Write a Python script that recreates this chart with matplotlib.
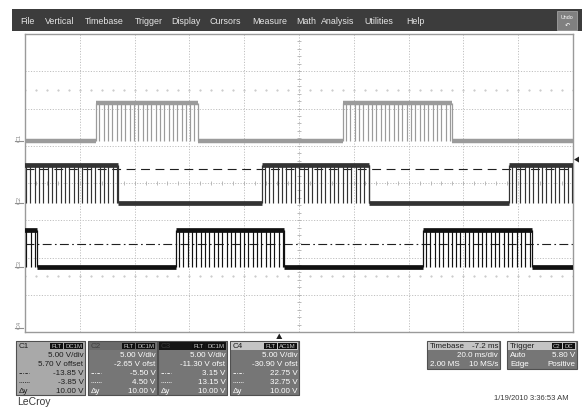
import numpy as np
import matplotlib
matplotlib.use("Agg")
import matplotlib.pyplot as plt
from matplotlib.patches import Rectangle, Polygon

plt.rcParams['font.family'] = ['Liberation Sans', 'DejaVu Sans']

W, H = 582, 410

# ---- acquisition settings -------------------------------------------------
time_per_div_ms = 20.0
trigger_delay_ms = -7.2
n_xdiv, n_ydiv = 10, 8
volts_per_div = 5.0

# channel offsets (V) -> position of the 0 V level on screen
channel_offsets = {"C1": 5.70, "C2": -2.65, "C3": -11.30, "C4": -30.90}

# logic levels of the three gate signals (V)
level_high = 5.0
level_low = 0.0

# intervals (ms, relative to trigger) during which each signal is high
c1_high = [(-66.9, -29.7), (23.2, 63.0)]
c2_high = [(-95.0, -58.9), (-6.3, 32.7), (83.8, 110.0)]
c3_high = [(-95.0, -88.4), (-37.7, 1.7), (52.4, 92.2)]

# switching period of the chopping pulses inside a high interval (ms)
chop_period_ms = 1.58

# horizontal cursors on C2 (V)
cursor_dash = 4.50
cursor_dashdot = -5.50
trigger_level = 5.80

# readout tables
box_titles = ["C1", "C2", "C3", "C4"]
box_coupling = ["DC1M", "DC1M", "DC1M", "AC1M"]
box_vdiv = ["5.00 V/div"] * 4
box_offset = ["5.70 V offset", "-2.65 V ofst", "-11.30 V ofst", "-30.90 V ofst"]
box_cur1 = ["-13.85 V", "-5.50 V", "3.15 V", "22.75 V"]
box_cur2 = ["-3.85 V", "4.50 V", "13.15 V", "32.75 V"]
box_dy = ["10.00 V"] * 4

menu_items = ["File", "Vertical", "Timebase", "Trigger", "Display", "Cursors",
              "Measure", "Math", "Analysis", "Utilities", "Help"]
menu_x = [20, 45, 85, 135, 171, 210, 252, 296, 321, 364, 406]

fig = plt.figure(figsize=(W / 100, H / 100), dpi=100)
fig.patch.set_facecolor("white")

# ---- full-figure overlay in pixel coordinates -----------------------------
ov = fig.add_axes([0, 0, 1, 1])
ov.set_xlim(0, W)
ov.set_ylim(H, 0)
ov.axis("off")

# menu bar
ov.add_patch(Rectangle((12, 10), W - 12, 22, facecolor="#3c3c3c", edgecolor="none"))
for name, x in zip(menu_items, menu_x):
    ov.text(x, 21.5, name, color="#e6e6e6", fontsize=6.4, va="center", ha="left")
ov.add_patch(Rectangle((557, 12), 20, 19, facecolor="#808080", edgecolor="#a0a0a0", lw=0.6))
ov.text(567, 17.5, "Undo", color="white", fontsize=3.8, ha="center", va="center")
ov.text(567, 25, "\u21b6", color="white", fontsize=4.5, ha="center", va="center")

# ---- scope grid ------------------------------------------------------------
gx0, gx1, gy0, gy1 = 25, 573, 35, 333
ax = fig.add_axes([gx0 / W, 1 - gy1 / H, (gx1 - gx0) / W, (gy1 - gy0) / H])
t_left = -n_xdiv / 2 * time_per_div_ms - trigger_delay_ms
t_right = t_left + n_xdiv * time_per_div_ms
ax.set_xlim(t_left, t_right)
ax.set_ylim(0, n_ydiv)
ax.set_xticks([])
ax.set_yticks([])
for s in ax.spines.values():
    s.set_color("#9a9a9a")
    s.set_linewidth(1.0)

grid_kw = dict(color="#c0c0c0", lw=0.7, linestyle=(0, (1.2, 1.6)), zorder=0)
for i in range(1, n_xdiv):
    ax.axvline(t_left + i * time_per_div_ms, **grid_kw)
for j in range(1, n_ydiv):
    ax.axhline(j, **grid_kw)

t_mid = t_left + n_xdiv / 2 * time_per_div_ms
sub_t = np.arange(t_left, t_right + 1e-9, time_per_div_ms / 5)
sub_y = np.arange(0, n_ydiv + 1e-9, 0.2)
ax.plot(sub_t, np.full_like(sub_t, 4.0), "|", color="#b0b0b0", ms=3, mew=0.6, zorder=0)
ax.plot(np.full_like(sub_y, t_mid), sub_y, "_", color="#b0b0b0", ms=3, mew=0.6, zorder=0)
for yrow in (1.5, 6.5):
    ax.plot(sub_t, np.full_like(sub_t, yrow), ".", color="#c0c0c0", ms=1.0, zorder=0)


def zero_div(ch):
    return n_ydiv / 2 + channel_offsets[ch] / volts_per_div


def draw_channel(ch, highs, color, lw_band, phase):
    z = zero_div(ch)
    yh = z + level_high / volts_per_div
    yl = z + level_low / volts_per_div
    # low segments between high intervals
    edges = [t_left - 5] + [v for iv in highs for v in iv] + [t_right + 5]
    for a, b in zip(edges[0::2], edges[1::2]):
        if b > a:
            ax.plot([a, b], [yl, yl], color=color, lw=lw_band, solid_capstyle="butt", zorder=3)
    for a, b in highs:
        ax.plot([a, b], [yh, yh], color=color, lw=lw_band, solid_capstyle="butt", zorder=3)
        ax.vlines([a, b], yl, yh, color=color, lw=0.9, zorder=3)
        dips = np.arange(a + phase, b, chop_period_ms)
        ax.vlines(dips, yl, yh, color=color, lw=0.85, zorder=3)


draw_channel("C1", c1_high, "#9b9b9b", 3.2, 1.2)
draw_channel("C2", c2_high, "#333333", 3.4, 1.0)
draw_channel("C3", c3_high, "#111111", 3.4, 1.1)

# cursors on C2
z2 = zero_div("C2")
ax.axhline(z2 + cursor_dash / volts_per_div, color="#202020", lw=0.8,
           linestyle=(0, (8, 5)), zorder=2)
ax.axhline(z2 + cursor_dashdot / volts_per_div, color="#202020", lw=0.8,
           linestyle=(0, (8, 3, 1.5, 3)), zorder=2)

# ---- markers outside the grid ----------------------------------------------
def div_to_py(d):
    return gy1 - d * (gy1 - gy0) / n_ydiv


for ch in ["C1", "C2", "C3", "C4"]:
    py = min(div_to_py(zero_div(ch)), 329)
    ov.text(19, py - 4, ch, color="#909090", fontsize=4.6, rotation=90,
            ha="center", va="center")
    ov.plot([15, 23], [py, py], color="#909090", lw=0.8)

trig_y = div_to_py(z2 + trigger_level / volts_per_div)
ov.add_patch(Polygon([[579, trig_y - 3], [579, trig_y + 3], [574, trig_y]],
                     closed=True, facecolor="#202020", edgecolor="none"))
trig_x = gx0 + (0 - t_left) / (t_right - t_left) * (gx1 - gx0)
ov.add_patch(Polygon([[trig_x - 3, 340], [trig_x + 3, 340], [trig_x, 334.5]],
                     closed=True, facecolor="#202020", edgecolor="none"))

# ---- channel readout boxes ---------------------------------------------------
box_x = [16, 88, 158, 230]
box_w = 69
row_y = [346.5, 356, 365, 374, 383, 392]
header_fc = ["#a9a9a9", "#6a6a6a", "#151515", "#c4c4c4"]
body_fc = ["#a9a9a9", "#767676", "#767676", "#767676"]
body_tc = ["#1e1e1e", "white", "white", "white"]
head_tc = ["#1e1e1e", "#3e3e3e", "#3a3a3a", "#1e1e1e"]
fs = 5.8
for i, x in enumerate(box_x):
    ov.add_patch(Rectangle((x, 342), box_w, 54, facecolor=body_fc[i],
                           edgecolor="#505050", lw=0.8, joinstyle="round"))
    ov.add_patch(Rectangle((x + 0.8, 342.8), box_w - 1.6, 8.4, facecolor=header_fc[i],
                           edgecolor="none"))
    ov.text(x + 3, row_y[0], box_titles[i], color=head_tc[i], fontsize=fs, va="center")
    # FLT / coupling badges
    ov.add_patch(Rectangle((x + 34, 343.5), 13, 6.5, facecolor="#101010", edgecolor="none"))
    ov.text(x + 40.5, row_y[0], "FLT", color="#c8c8c8", fontsize=4.3, ha="center", va="center")
    ov.add_patch(Rectangle((x + 48, 343.5), 19, 6.5, facecolor="#101010", edgecolor="none"))
    ov.text(x + 57.5, row_y[0], box_coupling[i], color="#c8c8c8", fontsize=4.3,
            ha="center", va="center")
    xr = x + box_w - 1.5
    tc = body_tc[i]
    ov.text(xr, row_y[1], box_vdiv[i], color=tc, fontsize=fs, ha="right", va="center")
    ov.text(xr, row_y[2], box_offset[i], color=tc, fontsize=fs, ha="right", va="center")
    ov.text(xr, row_y[3], box_cur1[i], color=tc, fontsize=fs, ha="right", va="center")
    ov.text(xr, row_y[4], box_cur2[i], color=tc, fontsize=fs, ha="right", va="center")
    ov.text(xr, row_y[5], box_dy[i], color=tc, fontsize=fs, ha="right", va="center")
    ov.plot([x + 3, x + 13], [row_y[3], row_y[3]], color=tc, lw=0.6,
            linestyle=(0, (3, 1.5, 1, 1.5)))
    ov.plot([x + 3, x + 13], [row_y[4], row_y[4]], color=tc, lw=0.6,
            linestyle=(0, (1, 1.2)))
    ov.text(x + 3, row_y[5], "\u0394y", color=tc, fontsize=fs, va="center")

# timebase box
ov.add_patch(Rectangle((427, 342), 73, 28, facecolor="#767676", edgecolor="#505050", lw=0.8))
ov.add_patch(Rectangle((427.8, 342.8), 71.4, 8.4, facecolor="#c4c4c4", edgecolor="none"))
ov.text(430, row_y[0], "Timebase", color="#1e1e1e", fontsize=fs, va="center")
ov.text(498, row_y[0], f"{trigger_delay_ms:.1f} ms", color="#1e1e1e", fontsize=fs,
        ha="right", va="center")
ov.text(498, row_y[1], f"{time_per_div_ms:.1f} ms/div", color="white", fontsize=fs,
        ha="right", va="center")
ov.text(430, row_y[2], "2.00 MS", color="white", fontsize=fs, va="center")
ov.text(498, row_y[2], "10 MS/s", color="white", fontsize=fs, ha="right", va="center")

# trigger box
ov.add_patch(Rectangle((507, 342), 70, 28, facecolor="#767676", edgecolor="#505050", lw=0.8))
ov.add_patch(Rectangle((507.8, 342.8), 68.4, 8.4, facecolor="#c4c4c4", edgecolor="none"))
ov.text(510, row_y[0], "Trigger", color="#1e1e1e", fontsize=fs, va="center")
ov.add_patch(Rectangle((552, 343.5), 10, 6.5, facecolor="#101010", edgecolor="none"))
ov.text(557, row_y[0], "C2", color="#c8c8c8", fontsize=4.3, ha="center", va="center")
ov.add_patch(Rectangle((563, 343.5), 12, 6.5, facecolor="#101010", edgecolor="none"))
ov.text(569, row_y[0], "DC", color="#c8c8c8", fontsize=4.3, ha="center", va="center")
ov.text(510, row_y[1], "Auto", color="white", fontsize=fs, va="center")
ov.text(575, row_y[1], f"{trigger_level:.2f} V", color="white", fontsize=fs,
        ha="right", va="center")
ov.text(510, row_y[2], "Edge", color="white", fontsize=fs, va="center")
ov.text(575, row_y[2], "Positive", color="white", fontsize=fs, ha="right", va="center")

ov.text(17, 402, "LeCroy", color="#3a3a3a", fontsize=7.5, va="center")
ov.text(569, 399, "1/19/2010 3:36:53 AM", color="#3a3a3a", fontsize=5.5,
        ha="right", va="center")

fig.savefig("out.png", dpi=100, facecolor="white")
